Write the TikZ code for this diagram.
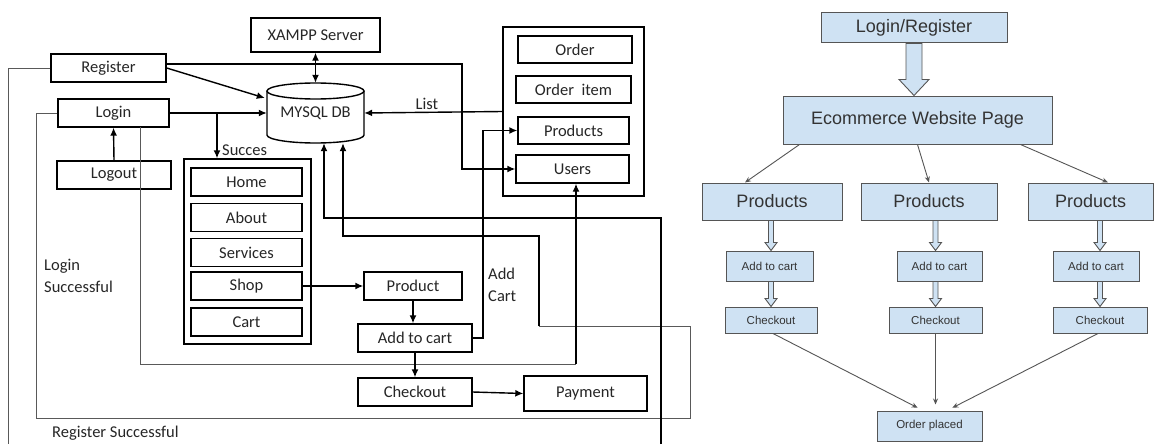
\documentclass[tikz,border=0pt]{standalone}
\usepackage{fontspec}
\setmainfont{Carlito}
\newfontfamily\arialf{Liberation Sans}
\usetikzlibrary{calc,arrows.meta}
\definecolor{boxblue}{HTML}{CFE2F3}
\definecolor{bordergray}{HTML}{555555}
\definecolor{txtgray}{HTML}{333333}
\tikzset{
 lbox/.style={draw=black, line width=1.4pt, inner sep=0pt, font=\fontsize{16.5}{19}\selectfont, text=black!85},
 cont/.style={draw=black, line width=1.4pt, inner sep=0pt},
 arr/.style={line width=1.4pt, -{Latex[length=8pt,width=7pt]}},
 grayline/.style={line width=0.9pt, draw=black!65},
 rbox/.style={draw=bordergray, fill=boxblue, line width=1pt, inner sep=0pt, text=txtgray},
 bigt/.style={font=\arialf\fontsize{18}{21}\selectfont},
 smallt/.style={font=\arialf\fontsize{11.5}{13}\selectfont},
 rarr/.style={draw=bordergray, line width=0.9pt, -{Stealth[length=6pt,width=5pt]}},
 lbl/.style={font=\fontsize{16.5}{22}\selectfont, text=black!85, inner sep=0pt, align=left},
}
\newcommand\harrow[6]{%
 \draw[draw=bordergray, fill=boxblue, line width=0.9pt, line join=miter]
 let \p1=(#1), \p2=(#2), \p3=(#3) in
 ({\x3-#4pt},\y1) -- ({\x3-#4pt},{\y2+#6pt}) -- ({\x3-#5pt},{\y2+#6pt}) -- (\x3,\y2)
 -- ({\x3+#5pt},{\y2+#6pt}) -- ({\x3+#4pt},{\y2+#6pt}) -- ({\x3+#4pt},\y1) -- cycle;}
\begin{document}
\begin{tikzpicture}[x=1pt,y=-1pt]
\useasboundingbox (0,0) rectangle (1155,444);
\fill[white] (0,0) rectangle (1155,444);

% ---------- left diagram ----------
\node[lbox, minimum width=129pt, minimum height=34pt] (xampp) at (315.5,35) {XAMPP Server};
\node[lbox, minimum width=115pt, minimum height=28pt] (reg) at (108.5,68) {Register};
\node[lbox, minimum width=111pt, minimum height=28pt] (login) at (113.5,113) {Login};
\node[lbox, minimum width=114pt, minimum height=28pt] (logout) at (114,175) {Logout};
\node[inner sep=0pt, minimum width=97pt, minimum height=60pt, font=\fontsize{16.5}{19}\selectfont, text=black!85] (db) at (315.5,113) {MYSQL DB};
\draw[line width=1.4pt] (315.5,91) ellipse[x radius=48.5pt, y radius=8pt];
\draw[line width=1.4pt] (267,91) -- (267,135) arc[start angle=180, end angle=360, x radius=48.5pt, y radius=8pt] -- (364,91);

\node[cont, minimum width=127pt, minimum height=185pt] (succ) at (247.5,251.5) {};
\node[lbox, minimum width=111pt, minimum height=28pt] (home) at (246.5,182) {Home};
\node[lbox, minimum width=111pt, minimum height=28pt] (about) at (246.5,217.5) {About};
\node[lbox, minimum width=111pt, minimum height=28pt] (services) at (246.5,252.5) {Services};
\node[lbox, minimum width=111pt, minimum height=28pt] (shop) at (246.5,286) {Shop};
\node[lbox, minimum width=111pt, minimum height=28pt] (cart) at (246.5,322) {Cart};

\node[cont, minimum width=141pt, minimum height=169pt] (rc) at (573.5,111.5) {};
\node[lbox, minimum width=114pt, minimum height=27pt] (order) at (575,49.5) {Order};
\node[lbox, minimum width=115pt, minimum height=27pt] (orderitem) at (573.5,89.5) {Order\ \ item};
\node[lbox, minimum width=111pt, minimum height=27pt] (products) at (573.5,130.5) {Products};
\node[lbox, minimum width=113pt, minimum height=28pt] (users) at (572.5,169) {Users};

\node[lbox, minimum width=98pt, minimum height=28pt] (product) at (413,286) {Product};
\node[lbox, minimum width=114pt, minimum height=28pt] (atc) at (415,338) {Add to cart};
\node[lbox, minimum width=114pt, minimum height=28pt] (co) at (415,392) {Checkout};
\node[lbox, minimum width=123pt, minimum height=35pt] (pay) at (585.5,393.5) {Payment};

% labels
\node[lbl, anchor=west] (lsucc) at (222,150) {Succes};
\node[lbl] (llist) at (427,104) {List};
\node[lbl, anchor=north west] (llogin) at (44,259) {Login\\Successful};
\node[lbl, anchor=north west] (ladd) at (488,268) {Add\\Cart};
\node[lbl, anchor=west] (lregs) at (52,433) {Register Successful};

% coordinates
\coordinate (ru) at (462,64);
\coordinate (sj) at (217,113);
\coordinate (ac) at (483,338);
\coordinate (rb) at (8,444);
\coordinate (lb) at (140,127);
\coordinate (lbc) at (140,364);
\coordinate (lbd) at (576,364);
\coordinate (l1) at (36,418);
\coordinate (l2) at (690,326);
\coordinate (l2b) at (539,326);
\coordinate (l3) at (539,236);
\coordinate (l4) at (343,236);
\coordinate (b1) at (661,444);
\coordinate (b2) at (324,218);

% connectors
\draw[grayline] (reg.west) -| (rb);
\draw[grayline] (login.west) -| (l1) -| (l2) -- (l2b);
\draw[arr] (l2b) -- (l3) -- (l4) -- (l4 |- db.south);
\draw[arr] (b1) |- (b2) -- (b2 |- db.south);
\draw[grayline] (lb) -- (lbc) -- (lbd);
\draw[arr] (lbd) -- (lbd |- users.south);
\draw[arr] ($(reg.east)+(0,-4)$) -- (ru) |- (users.west);
\draw[arr] (reg.east) -- ($(db.west)+(-2,-15)$);
\draw[arr] (login.east) -- (db.west);
\draw[arr] (sj) -- (sj |- succ.north);
\draw[line width=1.4pt, {Latex[length=8pt,width=7pt]}-{Latex[length=8pt,width=7pt]}] (xampp.south) -- (db.north);
\draw[arr] (logout.north) -- (login.south);
\draw[arr] (rc.west) -- (db.east);
\draw[arr] (shop.east) -- (product.west);
\draw[arr] (product.south) -- (product.south |- atc.north);
\draw[arr] (atc.south) -- (co.north);
\draw[arr] (co.east) -- (pay.west);
\draw[arr] (atc.east) -- (ac) |- (products.west);

% ---------- right diagram ----------
\node[rbox, bigt, minimum width=186pt, minimum height=30pt] (lr) at (914,28) {Login/Register};
\node[rbox, bigt, minimum width=269pt, minimum height=48pt] (ecom) at (917.5,120) {Ecommerce Website Page};
\node[rbox, bigt, minimum width=140pt, minimum height=37pt] (p1) at (772,201.5) {Products};
\node[rbox, bigt, minimum width=136pt, minimum height=37pt] (p2) at (929,201.5) {Products};
\node[rbox, bigt, minimum width=125pt, minimum height=37pt] (p3) at (1090.5,201.5) {Products};
\node[rbox, smallt, minimum width=87pt, minimum height=30pt] (a1) at (769.5,266) {Add to cart};
\node[rbox, smallt, minimum width=85pt, minimum height=30pt] (a2) at (939.5,266) {Add to cart};
\node[rbox, smallt, minimum width=86pt, minimum height=30pt] (a3) at (1096,266) {Add to cart};
\node[rbox, smallt, minimum width=92pt, minimum height=26pt] (c1) at (771,320) {Checkout};
\node[rbox, smallt, minimum width=93pt, minimum height=26pt] (c2) at (935.5,320) {Checkout};
\node[rbox, smallt, minimum width=94pt, minimum height=26pt] (c3) at (1100,320) {Checkout};
\node[rbox, smallt, minimum width=105pt, minimum height=30pt] (op) at (929.5,426) {Order placed};

\harrow{lr.south}{ecom.north}{lr.south}{8}{15}{16}
\harrow{p1.south}{a1.north}{c1.south}{2.5}{6}{8}
\harrow{p2.south}{a2.north}{c2.south}{2.5}{6}{8}
\harrow{p3.south}{a3.north}{c3.south}{2.5}{6}{8}
\harrow{a1.south}{c1.north}{c1.south}{2.5}{6}{8}
\harrow{a2.south}{c2.north}{c2.south}{2.5}{6}{8}
\harrow{a3.south}{c3.north}{c3.south}{2.5}{6}{8}

\draw[rarr] ($(ecom.south west)+(17,0)$) -- ($(p1.north)+(-27,0)$);
\draw[rarr] (ecom.south) -- (p2.north);
\draw[rarr] ($(ecom.south east)+(-32,0)$) -- ($(p3.north)+(17.5,0)$);
\draw[rarr, shorten >=6pt] ($(c1.south)+(2,0)$) -- ($(op.north)+(-6.5,0)$);
\draw[rarr, shorten >=6pt] (c2.south) -- (c2.south |- op.north);
\draw[rarr, shorten >=6pt] ($(c3.south)+(-2,0)$) -- ($(op.north)+(17.5,0)$);
\end{tikzpicture}
\end{document}
